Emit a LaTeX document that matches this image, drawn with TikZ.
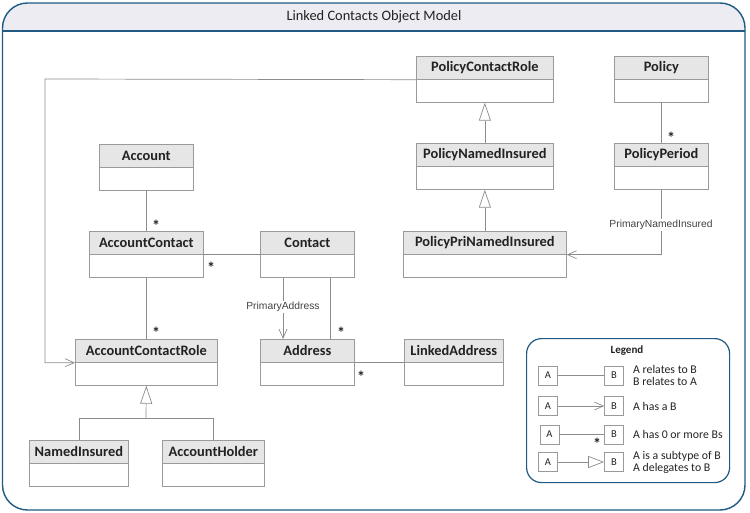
\documentclass[tikz,border=0pt]{standalone}
\usepackage{fontspec}
\setmainfont{Carlito}
\newfontfamily\labfont{Liberation Sans}
\usetikzlibrary{arrows.meta,calc}
\definecolor{framecol}{HTML}{1F5A82}
\definecolor{hdrfill}{HTML}{EDECF3}
\definecolor{boxhead}{HTML}{E6E6E6}
\definecolor{boxline}{HTML}{9A9A9A}
\definecolor{conncol}{HTML}{8C8C8C}
\definecolor{txtcol}{HTML}{222222}
\tikzset{
  clsbody/.style={draw=boxline, line width=0.7pt, fill=white, inner sep=0pt},
  clshead/.style={draw=boxline, line width=0.7pt, fill=boxhead, inner sep=0pt,
    font=\fontsize{14.4}{16}\selectfont\bfseries, text=txtcol},
  conn/.style={draw=conncol, line width=0.7pt},
  openarr/.style={-{Straight Barb[length=9pt,width=8pt]}},
  inh/.style={-{Triangle[open,length=18pt,width=12pt,fill=white]}},
  starlbl/.style={font=\fontsize{16}{16}\selectfont\bfseries, text=txtcol, inner sep=0pt},
  rolelbl/.style={font=\labfont\fontsize{10.3}{12}\selectfont, text=txtcol!85, fill=white, inner sep=1pt},
  legbox/.style={draw=boxline, line width=0.7pt, fill=white, minimum width=19pt, minimum height=19pt, inner sep=0pt, font=\fontsize{10.5}{12}\selectfont, text=txtcol},
  legtxt/.style={anchor=west, align=left, font=\fontsize{11.8}{12}\selectfont, text=txtcol, inner sep=0pt},
}
\newcommand\umlcls[5]{%
  \node[clsbody, minimum width=#4pt, minimum height=46pt, anchor=north west] (#1) at (#2,#3) {};
  \node[clshead, minimum width=#4pt, minimum height=23pt, anchor=north west] (#1h) at (#2,#3) {#5};
}
\begin{document}
\begin{tikzpicture}[x=1pt,y=-1pt]
\useasboundingbox (0,0) rectangle (750,513);
% outer frame
\fill[hdrfill] (2.5,31) [rounded corners=25] -- (2.5,3) -- (745,3) [sharp corners] -- (745,31) -- cycle;
\draw[framecol, line width=1.4pt, rounded corners=25] (2.5,3) rectangle (745,510);
\draw[framecol, line width=1.6pt] (2.5,31) -- (745,31);
\node[font=\fontsize{14.4}{16}\selectfont, text=txtcol] (title) at (374,17) {Linked Contacts Object Model};

% classes
\umlcls{pcr}{416}{56}{137}{PolicyContactRole}
\umlcls{policy}{614}{56}{94}{Policy}
\umlcls{pni}{416}{143}{137}{PolicyNamedInsured}
\umlcls{pp}{614}{143}{94}{PolicyPeriod}
\umlcls{ppni}{403}{231}{163}{PolicyPriNamedInsured}
\umlcls{account}{99}{144}{94}{Account}
\umlcls{ac}{89}{231}{114}{AccountContact}
\umlcls{contact}{260}{231}{94}{Contact}
\umlcls{acr}{75}{339}{142}{AccountContactRole}
\umlcls{address}{260}{339}{94}{Address}
\umlcls{la}{404}{339}{99}{LinkedAddress}
\umlcls{ni}{29}{440}{99}{NamedInsured}
\umlcls{ah}{162}{440}{102}{AccountHolder}

% connectors
\coordinate (lk) at (45,79);
\draw[conn, openarr] (pcrh.south west) -- (lk) |- (acrh.south west);
\draw[conn] (account.south) -- (ac.north);
\node[starlbl] (s1) at (156,226) {*};
\draw[conn] (ach.south east) -- (contacth.south west);
\node[starlbl] (s2) at (211,268) {*};
\draw[conn] (ac.south) -- (acr.north);
\node[starlbl] (s3) at (156,333) {*};
\draw[conn, openarr] ($(contact.south west)+(23,0)$) -- ($(address.north west)+(23,0)$);
\node[rolelbl] (pa) at (283,307) {PrimaryAddress};
\draw[conn] ($(contact.south west)+(70,0)$) -- ($(address.north west)+(70,0)$);
\node[starlbl] (s4) at (341,333) {*};
\draw[conn] (addressh.south east) -- (lah.south west);
\node[starlbl] (s5) at (361,377) {*};
\coordinate (jn) at (146,418);
\draw[conn] (ni.north) |- (jn);
\draw[conn] (ah.north) |- (jn);
\draw[conn, inh] (jn) -- (acr.south);
\draw[conn, inh] (pni.north) -- (pcr.south);
\draw[conn, inh] (ppni.north) -- (pni.south);
\draw[conn] (policy.south) -- (pp.north);
\node[starlbl] (s6) at (671,138) {*};
\draw[conn, openarr] (pp.south) |- (ppnih.south east);
\node[rolelbl] (pni-lbl) at (661,225) {PrimaryNamedInsured};

% legend
\node[draw=framecol, line width=1.2pt, rounded corners=15, minimum width=203pt, minimum height=144pt, anchor=north west, inner sep=0pt] (legend) at (526,338) {};
\node[font=\fontsize{11}{12}\selectfont\bfseries, text=txtcol] (legtitle) at (627,351) {Legend};
\node[legbox] (la1) at (548,375.5) {A};
\node[legbox] (lb1) at (614,375.5) {B};
\draw[conn] (la1) -- (lb1);
\node[legtxt] (lt1) at (633,375) {A relates to B\\B relates to A};
\node[legbox] (la2) at (548,406) {A};
\node[legbox] (lb2) at (614,406) {B};
\draw[conn, openarr] (la2) -- (lb2);
\node[legtxt] (lt2) at (633,406.5) {A has a B};
\node[legbox] (la3) at (549.5,434.5) {A};
\node[legbox] (lb3) at (614,434.5) {B};
\draw[conn] (la3) -- (lb3);
\node[starlbl] (s7) at (597,444) {*};
\node[legtxt] (lt3) at (633,434.5) {A has 0 or more Bs};
\node[legbox] (la4) at (548,462) {A};
\node[legbox] (lb4) at (614,462) {B};
\draw[conn, -{Triangle[open,length=16pt,width=12pt,fill=white]}] (la4) -- (lb4);
\node[legtxt] (lt4) at (633,462.5) {A is a subtype of B\\A delegates to B};
\end{tikzpicture}
\end{document}
